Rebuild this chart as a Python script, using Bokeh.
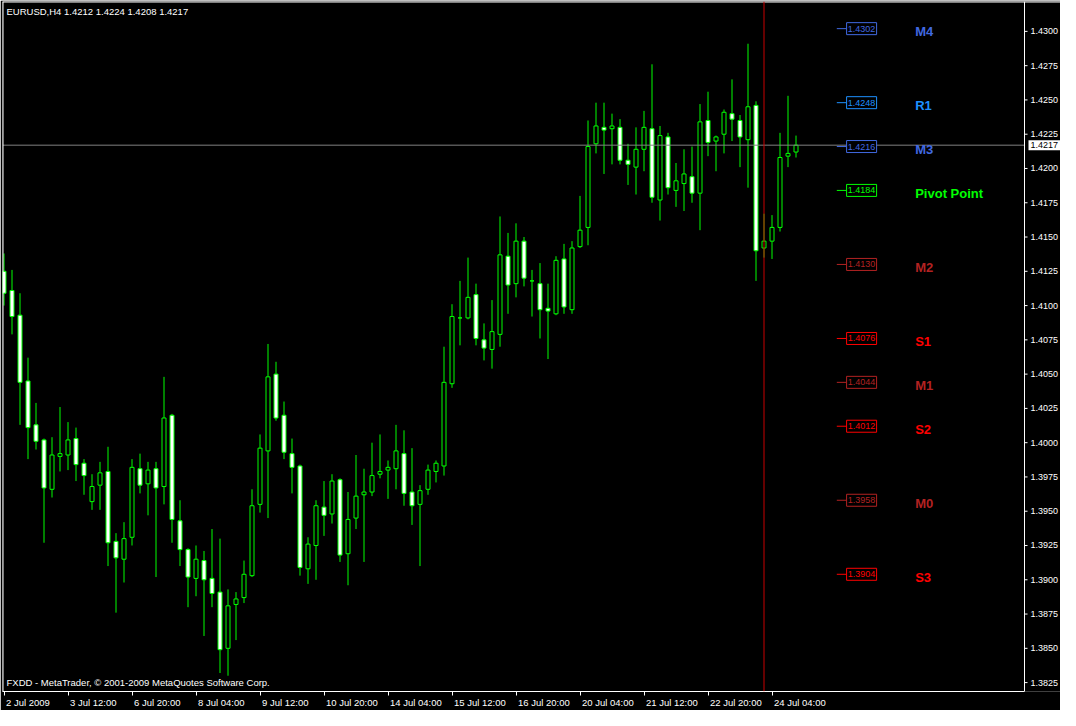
from bokeh.plotting import figure
from bokeh.models import (Range1d, FixedTicker, Span, Label, ColumnDataSource)
from bokeh.embed import file_html
from bokeh.resources import INLINE
from bokeh.core.properties import value

# ---------------- data (EURUSD H4, 100 bars) ----------------
symbol = "EURUSD"
timeframe = "H4"
opens = [1.4125, 1.4111, 1.4093, 1.4045, 1.4013, 1.4002, 1.3966, 1.3990, 1.3991, 1.4003,
         1.3985, 1.3957, 1.3969, 1.3979, 1.3928, 1.3915, 1.3931, 1.3981, 1.3970, 1.3981,
         1.3968, 1.4020, 1.3943, 1.3922, 1.3901, 1.3914, 1.3901, 1.3891, 1.3850, 1.3882,
         1.3887, 1.3903, 1.3955, 1.3994, 1.4050, 1.4020, 1.3992, 1.3983, 1.3908, 1.3925,
         1.3953, 1.3948, 1.3973, 1.3919, 1.3945, 1.3962, 1.3964, 1.3977, 1.3980, 1.3981,
         1.3992, 1.3964, 1.3955, 1.3966, 1.3979, 1.3983, 1.4043, 1.4091, 1.4091, 1.4108,
         1.4075, 1.4068, 1.4079, 1.4136, 1.4116, 1.4147, 1.4118, 1.4116, 1.4098, 1.4094,
         1.4134, 1.4097, 1.4143, 1.4157, 1.4218, 1.4230, 1.4229, 1.4230, 1.4206, 1.4201,
         1.4214, 1.4229, 1.4177, 1.4223, 1.4184, 1.4189, 1.4194, 1.4182, 1.4235, 1.4220,
         1.4225, 1.4240, 1.4235, 1.4221, 1.4246, 1.4142, 1.4147, 1.4157, 1.4209, 1.4212]
highs = [1.4138, 1.4126, 1.4109, 1.4062, 1.4029, 1.4003, 1.4004, 1.4026, 1.4015, 1.4011,
         1.3988, 1.3977, 1.3986, 1.3997, 1.3934, 1.3942, 1.3988, 1.3992, 1.3986, 1.3986,
         1.4048, 1.4021, 1.3958, 1.3923, 1.3925, 1.3921, 1.3937, 1.3930, 1.3893, 1.3891,
         1.3914, 1.3966, 1.4006, 1.4072, 1.4059, 1.4030, 1.4003, 1.3984, 1.3931, 1.3958,
         1.3972, 1.3977, 1.3974, 1.3964, 1.3991, 1.3981, 1.4000, 1.4006, 1.3987, 1.4013,
         1.4009, 1.3996, 1.3969, 1.3984, 1.3987, 1.4070, 1.4101, 1.4118, 1.4135, 1.4116,
         1.4087, 1.4104, 1.4165, 1.4153, 1.4160, 1.4150, 1.4126, 1.4131, 1.4116, 1.4136,
         1.4145, 1.4147, 1.4180, 1.4235, 1.4248, 1.4248, 1.4240, 1.4236, 1.4218, 1.4230,
         1.4242, 1.4276, 1.4231, 1.4226, 1.4204, 1.4214, 1.4216, 1.4247, 1.4256, 1.4224,
         1.4243, 1.4265, 1.4239, 1.4291, 1.4249, 1.4167, 1.4166, 1.4226, 1.4253, 1.4224]
lows = [1.4100, 1.4079, 1.4013, 1.3988, 1.3995, 1.3927, 1.3960, 1.3979, 1.3980, 1.3972,
        1.3962, 1.3951, 1.3951, 1.3910, 1.3876, 1.3898, 1.3925, 1.3963, 1.3947, 1.3902,
        1.3955, 1.3927, 1.3910, 1.3880, 1.3888, 1.3859, 1.3880, 1.3832, 1.3830, 1.3856,
        1.3883, 1.3902, 1.3949, 1.3945, 1.4016, 1.3988, 1.3963, 1.3903, 1.3897, 1.3900,
        1.3932, 1.3941, 1.3913, 1.3896, 1.3937, 1.3913, 1.3961, 1.3974, 1.3959, 1.3966,
        1.3954, 1.3940, 1.3910, 1.3962, 1.3971, 1.3976, 1.4040, 1.4071, 1.4090, 1.4071,
        1.4060, 1.4054, 1.4070, 1.4094, 1.4106, 1.4114, 1.4092, 1.4076, 1.4061, 1.4093,
        1.4094, 1.4094, 1.4142, 1.4144, 1.4211, 1.4196, 1.4203, 1.4203, 1.4188, 1.4181,
        1.4198, 1.4175, 1.4162, 1.4181, 1.4172, 1.4169, 1.4175, 1.4155, 1.4209, 1.4198,
        1.4211, 1.4220, 1.4201, 1.4186, 1.4118, 1.4135, 1.4134, 1.4154, 1.4201, 1.4208]
closes = [1.4109, 1.4092, 1.4044, 1.4011, 1.4001, 1.3967, 1.3991, 1.3992, 1.4002, 1.3984,
          1.3976, 1.3968, 1.3978, 1.3927, 1.3916, 1.3930, 1.3982, 1.3969, 1.3980, 1.3967,
          1.4018, 1.3944, 1.3922, 1.3902, 1.3915, 1.3900, 1.3890, 1.3849, 1.3881, 1.3886,
          1.3904, 1.3954, 1.3996, 1.4048, 1.4018, 1.3993, 1.3982, 1.3909, 1.3926, 1.3954,
          1.3947, 1.3972, 1.3918, 1.3944, 1.3961, 1.3964, 1.3976, 1.3979, 1.3982, 1.3994,
          1.3963, 1.3954, 1.3965, 1.3980, 1.3985, 1.4044, 1.4092, 1.4091, 1.4106, 1.4076,
          1.4069, 1.4081, 1.4137, 1.4115, 1.4147, 1.4120, 1.4118, 1.4097, 1.4096, 1.4133,
          1.4099, 1.4142, 1.4155, 1.4216, 1.4231, 1.4228, 1.4231, 1.4206, 1.4203, 1.4214,
          1.4230, 1.4179, 1.4224, 1.4186, 1.4191, 1.4196, 1.4182, 1.4234, 1.4219, 1.4223,
          1.4241, 1.4236, 1.4223, 1.4245, 1.4140, 1.4147, 1.4157, 1.4208, 1.4211, 1.4217]

date_tick_index = [0, 8, 16, 24, 32, 40, 48, 56, 64, 72, 80, 88, 96]
date_tick_labels = ["2 Jul 2009", "3 Jul 12:00", "6 Jul 20:00", "8 Jul 04:00", "9 Jul 12:00",
                    "10 Jul 20:00", "14 Jul 04:00", "15 Jul 12:00", "16 Jul 20:00",
                    "20 Jul 04:00", "21 Jul 12:00", "22 Jul 20:00", "24 Jul 04:00"]
price_ticks = [1.3825, 1.3850, 1.3875, 1.3900, 1.3925, 1.3950, 1.3975, 1.4000, 1.4025,
               1.4050, 1.4075, 1.4100, 1.4125, 1.4150, 1.4175, 1.4200, 1.4225, 1.4250,
               1.4275, 1.4300]

pivot_names = ["M4", "R1", "M3", "Pivot Point", "M2", "S1", "M1", "S2", "M0", "S3"]
pivot_levels = [1.4302, 1.4248, 1.4216, 1.4184, 1.4130, 1.4076, 1.4044, 1.4012, 1.3958, 1.3904]
pivot_colors = ["#4169E1", "#1E90FF", "#4169E1", "#00FF00", "#B22222",
                "#FF0000", "#B22222", "#FF0000", "#B22222", "#FF0000"]

vline_index = 95          # bar index of the vertical line
footer = "FXDD - MetaTrader, \u00a9 2001-2009 MetaQuotes Software Corp."

# ---------------- layout ----------------
W, H = 1060, 710
BL, BT, BB = 2, 1, 16
SCALE_W = 36                     # width of the price scale strip at the right
bar_px = 8
x0 = -1.5 / bar_px               # puts bar centres on half pixels (crisp 1px lines)
x1 = x0 + (W - BL) / bar_px
x_edge = x0 + (W - BL - SCALE_W) / bar_px   # chart / price-scale border
y0, y1 = 1.38185, 1.43218

FONT = "Liberation Sans"
GREEN = "#00FF00"
LABEL_PX = 9.5

p = figure(width=W, height=H, x_range=Range1d(x0, x1), y_range=Range1d(y0, y1),
           output_backend="svg", toolbar_location=None, y_axis_location=None,
           background_fill_color="black", border_fill_color="black",
           min_border_left=BL, min_border_right=0, min_border_top=BT, min_border_bottom=BB)
p.grid.visible = False
p.outline_line_color = None

# ---- time axis: tick marks at the bars, labels left-aligned after each tick ----
char_em = {" ": 0.278, "J": 0.5, "u": 0.556, "l": 0.222, ":": 0.278}
def text_px(s):
    return sum(char_em.get(ch, 0.556) for ch in s) * LABEL_PX

label_pos = [round(i + (2 + text_px(t) / 2) / bar_px, 3) for i, t in zip(date_tick_index, date_tick_labels)]
xa = p.xaxis[0]
xa.ticker = FixedTicker(ticks=label_pos, minor_ticks=date_tick_index)
xa.major_label_overrides = {pos: t for pos, t in zip(label_pos, date_tick_labels)}
xa.bounds = (x0, x_edge)
xa.axis_line_color = "white"
xa.major_tick_line_color = None
xa.major_tick_out = 4
xa.major_tick_in = 0
xa.minor_tick_line_color = "white"
xa.minor_tick_out = 4
xa.minor_tick_in = 0
xa.major_label_standoff = 1
xa.major_label_text_color = "white"
xa.major_label_text_font = FONT
xa.major_label_text_font_size = "%gpx" % LABEL_PX

# ---- chart border ----
p.add_layout(Span(location=x0, dimension="height", line_color="white", line_width=2))
p.add_layout(Span(location=y1, dimension="width", line_color="white", line_width=2))
p.add_layout(Span(location=x_edge, dimension="height", line_color="white", line_width=1))

# ---- price scale (right strip) ----
ssrc = ColumnDataSource(dict(x=[x_edge] * len(price_ticks), y=price_ticks,
                             t=["%.4f" % v for v in price_ticks]))
p.ray(x="x", y="y", length=3, length_units="screen", angle=0, source=ssrc,
      line_color="white", line_width=1)
p.text(x="x", y="y", text="t", source=ssrc, x_offset=6, text_baseline="middle",
       text_color="white", text_font=value(FONT), text_font_size="9px")

# ---- candles ----
idx = list(range(len(opens)))
tops = [max(o, c) for o, c in zip(opens, closes)]
bots = [min(o, c) for o, c in zip(opens, closes)]
fills = ["black" if c >= o else "white" for o, c in zip(opens, closes)]
src = ColumnDataSource(dict(x=idx, high=highs, low=lows, top=tops, bottom=bots, fill=fills))
p.segment(x0="x", y0="low", x1="x", y1="high", source=src, line_color=GREEN, line_width=1)
p.vbar(x="x", width=0.5, top="top", bottom="bottom", source=src,
       fill_color="fill", line_color=GREEN, line_width=1)

# ---- bid line, vertical line, current price box ----
p.segment(x0=[x0], y0=[closes[-1]], x1=[x_edge], y1=[closes[-1]], line_color="#808080", line_width=1)
p.add_layout(Span(location=vline_index, dimension="height", line_color="#C80000", line_width=1))
p.text(x=[x_edge], y=[closes[-1]], text=["%.4f" % closes[-1]], x_offset=4,
       text_baseline="middle", text_color="black", text_font=value(FONT), text_font_size="9px",
       background_fill_color="white", padding=2)

# ---- pivot levels ----
last = idx[-1]
n = len(pivot_levels)
psrc = ColumnDataSource(dict(
    y=pivot_levels, name=pivot_names, color=pivot_colors,
    txt=["%.4f" % v for v in pivot_levels],
    xa=[last + 5.1] * n, xb=[last + 6.3] * n, xc=[last + 8.2] * n, xl=[last + 14.9] * n))
p.segment(x0="xa", y0="y", x1="xb", y1="y", source=psrc, line_color="color", line_width=1)
p.rect(x="xc", y="y", width=30, height=12, width_units="screen", height_units="screen",
       source=psrc, fill_color="black", line_color="color", line_width=1)
p.text(x="xc", y="y", text="txt", source=psrc, text_align="center", text_baseline="middle",
       text_color="color", text_font=value(FONT), text_font_size="9px")
p.text(x="xl", y="y", text="name", source=psrc, text_align="left", text_baseline="middle",
       y_offset=3, text_color="color", text_font=value(FONT), text_font_size="13px",
       text_font_style="bold")

# ---- header / footer ----
p.add_layout(Label(x=x0, y=y1, x_offset=4, y_offset=-4, text_baseline="top",
                   text="%s,%s  %.4f %.4f %.4f %.4f" % (symbol, timeframe, opens[-1], highs[-1], lows[-1], closes[-1]),
                   text_color="white", text_font=FONT, text_font_size="9.5px"))
p.add_layout(Label(x=x0, y=y0, x_offset=4, y_offset=4, text_baseline="bottom",
                   text=footer, text_color="white", text_font=FONT, text_font_size="9.5px"))

open("out.html", "w").write(file_html(p, INLINE))
